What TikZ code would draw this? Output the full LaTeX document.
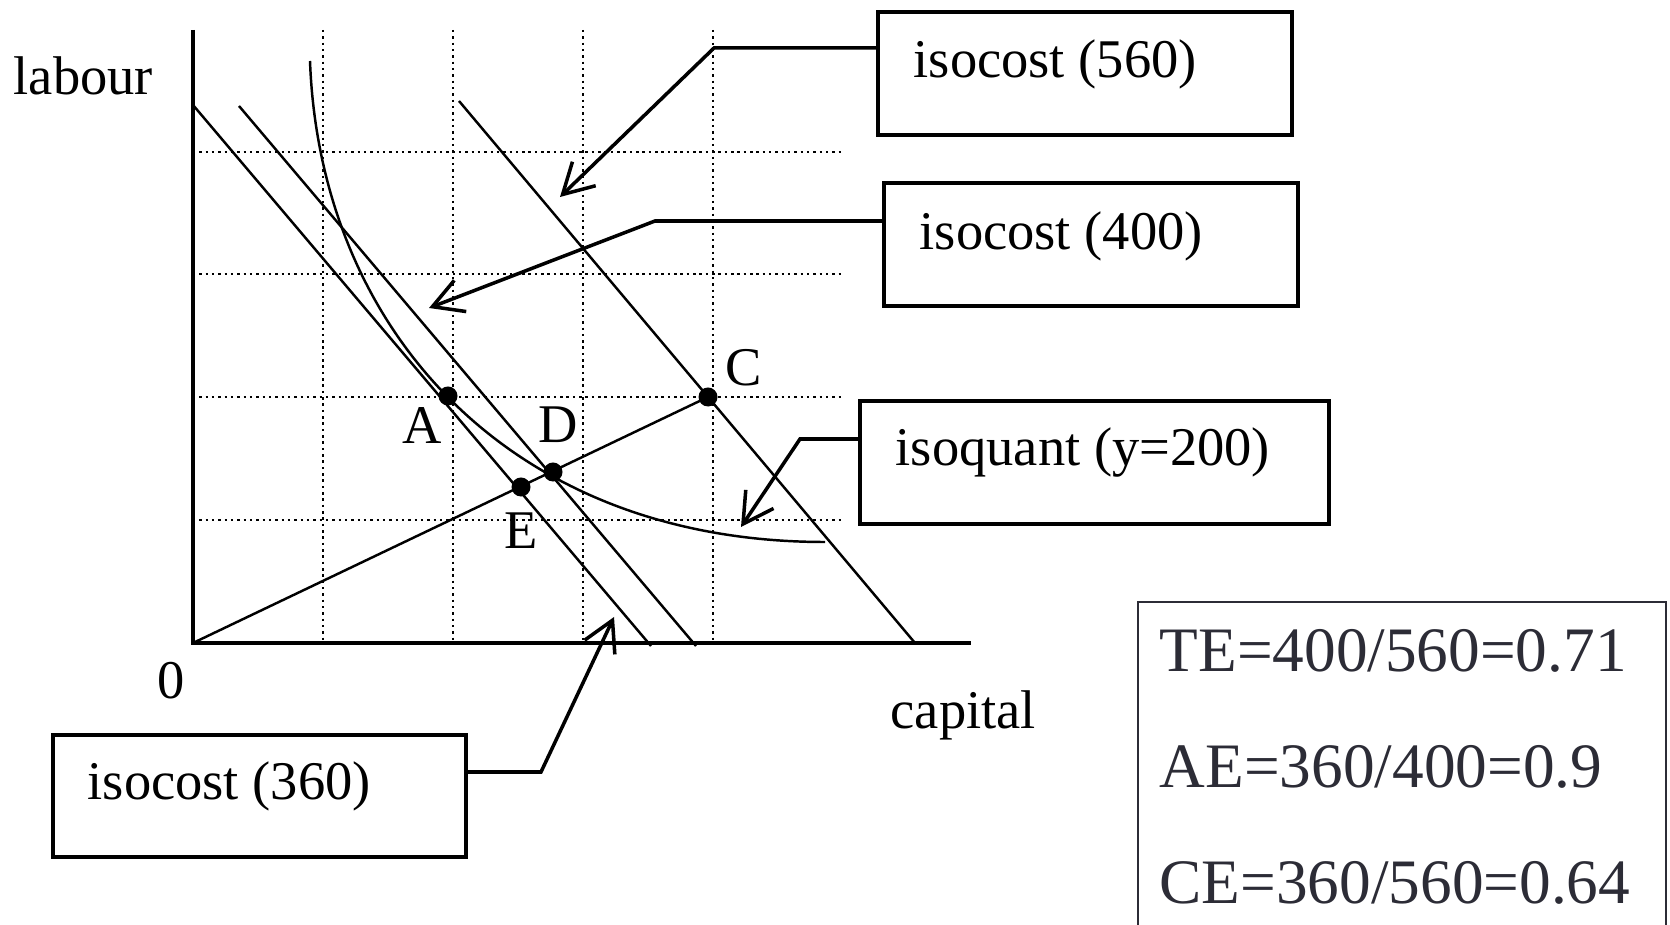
\documentclass[tikz,border=0pt]{standalone}
\usepackage{fontspec}
\setmainfont{Liberation Serif}
\usepackage{tikz}
\usetikzlibrary{positioning,arrows.meta,calc}
\definecolor{effGray}{RGB}{44,44,54}

\tikzset{
  axisline/.style={line width=0.9pt},
  gridline/.style={line width=0.7pt, dash pattern=on 0.7pt off 1.1pt},
  costline/.style={line width=0.7pt},
  ptdot/.style={circle, fill=black, inner sep=0pt, minimum size=0.19cm},
  ptlabel/.style={inner sep=0pt, font=\fontsize{15.5}{18}\selectfont},
  callbox/.style={draw, line width=1pt, anchor=north west, minimum height=1.23cm},
  calltext/.style={inner sep=0pt, anchor=base west, font=\fontsize{15.5}{18}\selectfont},
  calloutarrow/.style={line width=1pt, -{Straight Barb[length=8.5pt,width=9.5pt]}},
  effbox/.style={draw=effGray, line width=0.6pt, anchor=north west, minimum width=5.28cm, minimum height=3.5cm},
  efftext/.style={inner sep=0pt, anchor=base west, text=effGray, font=\fontsize{18}{21}\selectfont}
}

\begin{document}
\begin{tikzpicture}[x=0.01cm, y=-0.01cm]
  \useasboundingbox (0,0) rectangle (1670,925);

  % Grid
  \draw[gridline] (323,30) -- (323,643) (453,30) -- (453,643) (583,30) -- (583,643) (713,30) -- (713,643);
  \draw[gridline] (193,152) -- (841,152) (193,274) -- (841,274) (193,397) -- (841,397) (193,520) -- (841,520);

  % Axes
  \coordinate (O) at (193,643);
  \draw[axisline] (193,30) -- (O) -- (971,643);
  \node[ptlabel, anchor=base west] (labour) at (13,95) {labour};
  \node[ptlabel, anchor=base west] (capital) at (890,728) {capital};
  \node[ptlabel, below left=0.19cm and 0.08cm of O] (zero) {0};

  % Isocosts (360, 400, 560) and isoquant
  \draw[costline] (193,105) -- (651,646);
  \draw[costline] (239,106) -- (696,646);
  \draw[costline] (459,101) -- (915,643);
  \draw[costline] (310,61) .. controls (320,330) and (510,542) .. (825,542);

  % Points on the ray
  \node[ptdot] (A) at (448,396) {};
  \node[ptdot] (C) at (708,397) {};
  \node[ptdot] (D) at (553,472) {};
  \node[ptdot] (E) at (521,487) {};
  \draw[costline] (O) -- (C.center);
  \node[ptlabel, below left=0.04cm and -0.02cm of A] (labA) {A};
  \node[ptlabel, above right=0.03cm and 0.1cm of C] (labC) {C};
  \node[ptlabel, above=0.18cm of D, xshift=0.05cm] (labD) {D};
  \node[ptlabel, below=0.15cm of E] (labE) {E};

  % Callouts
  \node[callbox, minimum width=4.14cm] (box560) at (876,10) {};
  \node[calltext] (txt560) at ($(box560.north west)+(37,68)$) {isocost (560)};
  \coordinate (k560) at (714,48);
  \coordinate (p560) at (560,197);
  \draw[calloutarrow] (box560.west |- k560) -- (k560) -- (p560);

  \node[callbox, minimum width=4.14cm] (box400) at (882,181) {};
  \node[calltext] (txt400) at ($(box400.north west)+(37,69)$) {isocost (400)};
  \coordinate (k400) at (655,221);
  \coordinate (p400) at (429,308);
  \draw[calloutarrow] (box400.west |- k400) -- (k400) -- (p400);

  \node[callbox, minimum width=4.69cm] (boxq) at (858,399) {};
  \node[calltext] (txtq) at ($(boxq.north west)+(37,67)$) {isoquant (y=200)};
  \coordinate (kq) at (800,439);
  \coordinate (pq) at (741,527);
  \draw[calloutarrow] (boxq.west |- kq) -- (kq) -- (pq);

  \node[callbox, minimum width=4.13cm, minimum height=1.22cm] (box360) at (51,733) {};
  \node[calltext] (txt360) at ($(box360.north west)+(36,66)$) {isocost (360)};
  \coordinate (k360) at (541,772);
  \coordinate (p360) at (614,617);
  \draw[calloutarrow] (box360.east |- k360) -- (k360) -- (p360);

  % Efficiency measures
  \node[effbox] (eff) at (1137,601) {};
  \node[efftext] (te) at ($(eff.north west)+(22,71)$) {TE=400/560=0.71};
  \node[efftext] (ae) at ($(te.base west)+(0,115.5)$) {AE=360/400=0.9};
  \node[efftext] (ce) at ($(ae.base west)+(0,115.5)$) {CE=360/560=0.64};
\end{tikzpicture}
\end{document}
